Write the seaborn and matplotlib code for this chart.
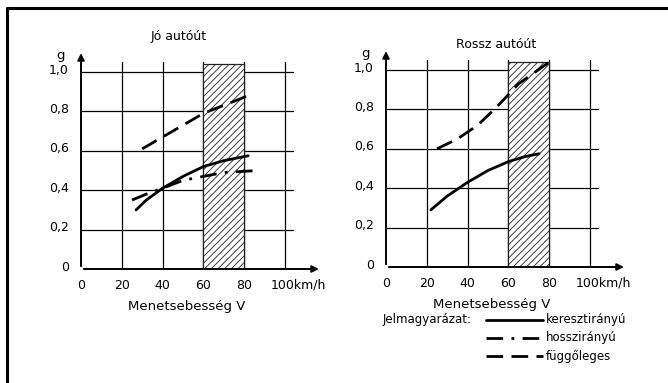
import numpy as np
import pandas as pd
import matplotlib
matplotlib.use("Agg")
import matplotlib.pyplot as plt
from matplotlib.lines import Line2D
import seaborn as sns

sns.set_theme(style="white")
plt.rcParams['font.family'] = ['DejaVu Sans']
plt.rcParams['hatch.linewidth'] = 0.6
plt.rcParams['text.color'] = 'black'

# ---- data ----
x_ticks = [0, 20, 40, 60, 80, 100]
x_tick_labels = ["0", "20", "40", "60", "80", "100km/h"]
y_ticks = [0, 0.2, 0.4, 0.6, 0.8, 1.0]
y_tick_labels = ["0", "0,2", "0,4", "0,6", "0,8", "1,0"]
band = (60, 80)

# Jó autóút
good_kereszt_x = [27, 32, 40, 50, 60, 70, 82]
good_kereszt_y = [0.30, 0.35, 0.41, 0.47, 0.52, 0.55, 0.575]
good_hossz_x = [25, 32, 40, 50, 60, 70, 87]
good_hossz_y = [0.35, 0.38, 0.41, 0.45, 0.47, 0.49, 0.50]
good_fugg_x = [30, 45, 60, 82]
good_fugg_y = [0.61, 0.70, 0.79, 0.88]

# Rossz autóút
bad_kereszt_x = [22, 30, 40, 50, 60, 68, 75]
bad_kereszt_y = [0.29, 0.36, 0.43, 0.49, 0.535, 0.56, 0.575]
bad_fugg_x = [25, 35, 45, 55, 65, 80]
bad_fugg_y = [0.60, 0.65, 0.72, 0.82, 0.93, 1.04]

series_names = ["keresztirányú", "hosszirányú", "függőleges"]
styles = {"keresztirányú": "-", "hosszirányú": (0, (6, 3, 1, 3)), "függőleges": (0, (6, 3))}

W, H = 668, 383
fig = plt.figure(figsize=(W / 100, H / 100), dpi=100)
fig.patch.set_facecolor("white")

# frame lines (top and left)
fig.add_artist(Line2D([7 / W, 7 / W], [0, 1 - 8 / H], color="black", lw=2.2, transform=fig.transFigure))
fig.add_artist(Line2D([7 / W, 1], [1 - 8 / H, 1 - 8 / H], color="black", lw=2.2, transform=fig.transFigure))

XMAX, YMAX = 120, 1.12
XS, YS = 2.04, 197.0  # px per unit


def make_axes(x0_px, y0_px):
    w = XMAX * XS
    h = YMAX * YS
    ax = fig.add_axes([x0_px / W, (H - y0_px) / H, w / W, h / H])
    ax.set_xlim(0, XMAX)
    ax.set_ylim(0, YMAX)
    for s in ax.spines.values():
        s.set_visible(False)
    ax.set_xticks([])
    ax.set_yticks([])
    ax.patch.set_alpha(0)
    return ax


def decorate(ax, title, tx, ty):
    # grid
    for yt in y_ticks[1:]:
        ax.plot([0, 104], [yt, yt], color="black", lw=0.9, zorder=1)
    for xt in x_ticks[1:]:
        ax.plot([xt, xt], [0, 1.05], color="black", lw=0.9, zorder=1)
    # hatched band
    ax.fill_between(list(band), [0, 0], [1.04, 1.04], facecolor="white",
                    edgecolor="#222222", hatch="/////", lw=0.9, zorder=2)
    # axes arrows
    ax.annotate("", xy=(118, 0), xytext=(0, 0),
                arrowprops=dict(arrowstyle="-|>", color="black", lw=1.4, mutation_scale=10), zorder=5)
    ax.annotate("", xy=(0, 1.11), xytext=(0, 0),
                arrowprops=dict(arrowstyle="-|>", color="black", lw=1.4, mutation_scale=10), zorder=5)
    for xt, lab in zip(x_ticks, x_tick_labels):
        if lab.endswith("h"):
            ax.text(xt - 7, -0.05, lab, ha="left", va="top", fontsize=9, color="black")
        else:
            ax.text(xt, -0.05, lab, ha="center", va="top", fontsize=9, color="black")
    for yt, lab in zip(y_ticks, y_tick_labels):
        ax.text(-6, yt + 0.01, lab, ha="right", va="center", fontsize=9, color="black")
    ax.text(-10, 1.085, "g", ha="center", va="center", fontsize=9.5, color="black")
    ax.text(tx, ty, title, ha="center", va="center", fontsize=9, color="black", clip_on=False)
    ax.text(52, -0.19, "Menetsebesség V", ha="center", va="center", fontsize=9.5, color="black")


def draw(ax, xs, ys, name):
    df = pd.DataFrame({"V": xs, "g": ys})
    sns.lineplot(data=df, x="V", y="g", ax=ax, color="black", lw=2.0,
                 linestyle=styles[name], zorder=4, legend=False)
    ax.set_xlabel("")
    ax.set_ylabel("")
    ax.set_xlim(0, XMAX)
    ax.set_ylim(0, YMAX)


ax1 = make_axes(81, 269)
decorate(ax1, "Jó autóút", 48, 1.18)
draw(ax1, good_kereszt_x, good_kereszt_y, "keresztirányú")
draw(ax1, good_hossz_x, good_hossz_y, "hosszirányú")
draw(ax1, good_fugg_x, good_fugg_y, "függőleges")

ax2 = make_axes(386, 267)
decorate(ax2, "Rossz autóút", 54, 1.13)
draw(ax2, bad_kereszt_x, bad_kereszt_y, "keresztirányú")
draw(ax2, bad_fugg_x, bad_fugg_y, "függőleges")

# legend (custom, drawn in figure pixels)
fig.text(383 / W, 1 - 320 / H, "Jelmagyarázat:", ha="left", va="center", fontsize=8.5, color="black")
for i, name in enumerate(series_names):
    yy = 1 - (320 + 18 * i) / H
    fig.add_artist(Line2D([486 / W, 543 / W], [yy, yy], color="black", lw=2.0,
                          linestyle=styles[name], transform=fig.transFigure))
    fig.text(546 / W, yy, name, ha="left", va="center", fontsize=8.5, color="black")

fig.savefig("out.png", dpi=100, facecolor="white")
